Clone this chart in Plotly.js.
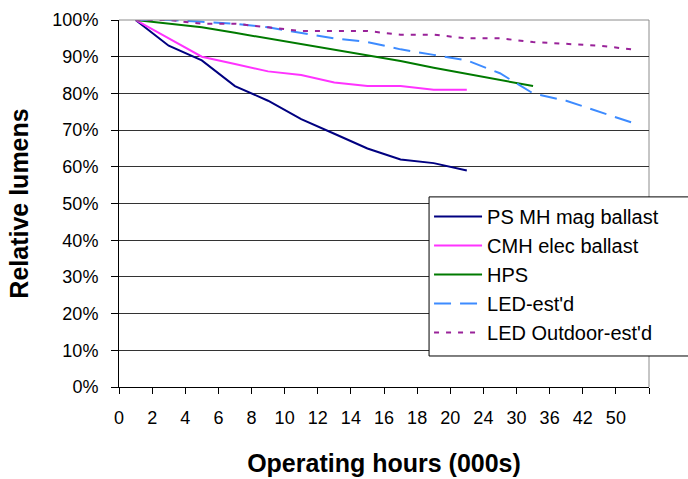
<!DOCTYPE html>
<html>
<head>
<meta charset="utf-8">
<script src="https://cdn.plot.ly/plotly-3.0.1.min.js"></script>
<style>
html,body{margin:0;padding:0;background:#fff;}
#chart{width:688px;height:479px;}
</style>
</head>
<body>
<div id="chart"></div>
<script>
// Axis tick labels (operating hours, thousands)
var tickLabels = ["0","2","4","6","8","10","12","14","16","18","20","24","30","36","42","50"];
// Measurement points (hours, thousands) — one per slot between tick marks
var pointHours = [1,3,5,7,9,11,13,15,17,19,21,27,33,39,46,51];

// Series values (relative lumens, %)
var psMH      = [100,93,89,82,78,73,69,65,62,61,59];
var cmh       = [100,95,90,88,86,85,83,82,82,81,81];
var hps       = [100,99,98,96.5,95,93.5,92,90.5,88.8,87,85.3,83.6,82];
var ledEst    = [100,100,99.5,99,98,96.5,95,94,92,90.5,89,85.5,80,78,75,72];
var ledOutEst = [100,100,99,99,98,97,97,97,96,96,95,95,94,93.5,93,92];

function slots(vals){
  return vals.map(function(v,i){ return i + 0.5; });
}

var traces = [
  {name:"PS MH mag ballast", y:psMH, color:"#000080", dash:"solid"},
  {name:"CMH elec ballast", y:cmh, color:"#ff33ff", dash:"solid"},
  {name:"HPS", y:hps, color:"#007a00", dash:"solid"},
  {name:"LED-est'd", y:ledEst, color:"#3d8bff", dash:"17px,9px"},
  {name:"LED Outdoor-est'd", y:ledOutEst, color:"#992299", dash:"5px,7px"}
].map(function(s){
  return {
    type:"scatter", mode:"lines", name:s.name,
    x: slots(s.y), y: s.y,
    line:{color:s.color, width:2, dash:s.dash},
    hoverinfo:"skip"
  };
});

var tickvals = [];
var ticktext = [];
for (var i = 0; i <= tickLabels.length; i++) {
  tickvals.push(i);
  ticktext.push(i < tickLabels.length ? tickLabels[i] : "");
}

var font = "Liberation Sans, Arial, sans-serif";

var layout = {
  width:688, height:479,
  margin:{l:119, r:39, t:20, b:92, pad:0},
  paper_bgcolor:"#ffffff", plot_bgcolor:"#ffffff",
  font:{family:font, color:"#000000", size:18},
  showlegend:true,
  legend:{
    x:0.585, y:0.518, xanchor:"left", yanchor:"top",
    bgcolor:"rgba(0,0,0,0)", borderwidth:0,
    font:{family:font, size:20, color:"#000000"},
    itemwidth:48,
    tracegroupgap:0
  },
  xaxis:{
    range:[0,16], tickmode:"array", tickvals:tickvals, ticktext:ticktext,
    showgrid:false, zeroline:false,
    showline:true, linecolor:"#000000", linewidth:1,
    ticks:"outside", ticklen:6, tickcolor:"#000000", tickwidth:1,
    ticklabelstandoff:8,
    tickfont:{family:font, size:18, color:"#000000"},
    title:{text:"<b>Operating hours (000s)</b>", font:{family:font, size:25, color:"#000000"}, standoff:27},
    fixedrange:true
  },
  yaxis:{
    range:[0,100], dtick:10, tick0:0, ticksuffix:"%",
    showgrid:true, gridcolor:"#333333", gridwidth:1, zeroline:false,
    showline:true, linecolor:"#000000", linewidth:1,
    ticks:"outside", ticklen:7, tickcolor:"#000000", tickwidth:1,
    ticklabelstandoff:9,
    tickfont:{family:font, size:18, color:"#000000"},
    title:{text:"<b>Relative lumens</b>", font:{family:font, size:25, color:"#000000"}, standoff:16},
    fixedrange:true
  },
  shapes:[
    {type:"line", xref:"paper", yref:"paper", x0:0, x1:1, y0:1, y1:1, line:{color:"#8c8c8c", width:1}, layer:"above"},
    {type:"line", xref:"paper", yref:"paper", x0:1, x1:1, y0:0, y1:1, line:{color:"#8c8c8c", width:1}, layer:"below"},
    // legend frame (runs off the right edge of the picture, as in the original)
    {type:"rect", xref:"paper", yref:"paper", x0:0.585, x1:1.2, y0:0.0845, y1:0.518,
     line:{color:"#000000", width:1}, fillcolor:"#ffffff", layer:"above"}
  ]
};

Plotly.newPlot("chart", traces, layout, {staticPlot:true, displayModeBar:false});
</script>
</body>
</html>
